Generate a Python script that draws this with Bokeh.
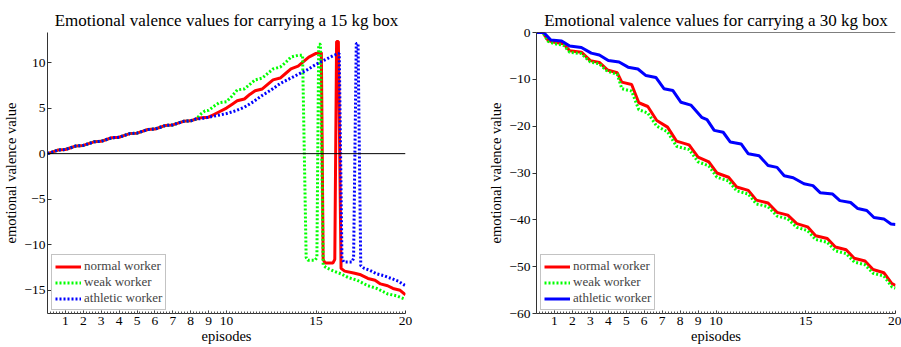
from bokeh.plotting import figure
from bokeh.layouts import row
from bokeh.models import FixedTicker, Span, Range1d
from bokeh.embed import file_html
from bokeh.resources import INLINE

# ---------------- data ----------------
episode_ticks = [1, 2, 3, 4, 5, 6, 7, 8, 9, 10, 15, 20]
series_names = ["normal worker", "weak worker", "athletic worker"]
titles = ["Emotional valence values for carrying a 15 kg box",
          "Emotional valence values for carrying a 30 kg box"]

# 15 kg box: shared rising part (all three workers overlap)
x15_common = [0, 0.3, 0.6, 1.0, 1.3, 1.6, 2.0, 2.3, 2.6, 3.0, 3.3, 3.6, 4.0, 4.3, 4.6, 5.0,
              5.3, 5.6, 6.0, 6.3, 6.6, 7.0, 7.3, 7.6, 8.0, 8.3]
y15_common = [0, 0.2, 0.4, 0.45, 0.65, 0.85, 0.9, 1.1, 1.3, 1.35, 1.55, 1.75, 1.8, 2.0, 2.2, 2.25,
              2.45, 2.65, 2.7, 2.9, 3.1, 3.15, 3.35, 3.55, 3.6, 3.8]

x15_normal = [8.6, 9.0, 9.3, 9.6, 10.0, 10.3, 10.6, 11.0, 11.3, 11.6, 12.0, 12.3, 12.6, 13.0, 13.3,
              13.6, 14.0, 14.3, 14.6, 15.0, 15.3, 15.4, 15.5, 15.95, 16.05, 16.15, 16.25, 16.4,
              16.6, 17.1, 17.5, 17.9, 18.3, 18.6, 19.0, 19.3, 19.7, 20.0]
y15_normal = [3.95, 4.0, 4.3, 4.6, 5.0, 5.4, 5.8, 6.0, 6.5, 6.9, 7.1, 7.6, 8.1, 8.3, 8.8,
              9.3, 9.6, 10.1, 10.6, 11.0, 11.1, -11.6, -12.0, -12.0, -11.6, 12.3, 12.3, -12.6,
              -12.9, -13.1, -13.3, -13.7, -13.9, -14.3, -14.5, -14.8, -15.0, -15.5]

x15_weak = [8.6, 8.8, 9.0, 9.3, 9.6, 10.0, 10.3, 10.6, 11.0, 11.3, 11.6, 12.0, 12.3, 12.6, 13.0,
            13.3, 13.6, 14.0, 14.25, 14.45, 14.55, 14.95, 15.05, 15.15, 15.25, 15.4, 15.55,
            16.0, 16.4, 16.8, 17.3, 17.9, 18.4, 19.0, 19.5, 20.0]
y15_weak = [4.4, 4.7, 4.75, 5.2, 5.6, 5.7, 6.3, 7.0, 7.1, 7.6, 8.1, 8.3, 8.8, 9.3, 9.5,
            10.0, 10.6, 10.8, 10.8, -11.4, -11.7, -11.7, -11.4, 12.0, 12.0, -12.2, -12.5,
            -12.9, -13.2, -13.6, -13.9, -14.5, -14.8, -15.4, -15.6, -16.0]

x15_athletic = [8.6, 9.0, 9.5, 10.0, 10.5, 11.0, 11.5, 12.0, 12.5, 13.0, 13.5, 14.0, 14.5, 15.0,
                15.5, 16.0, 16.3, 16.45, 16.55, 17.0, 17.1, 17.25, 17.35, 17.5, 17.7, 18.0,
                18.4, 18.8, 19.2, 19.6, 20.0]
y15_athletic = [3.85, 4.0, 4.2, 4.4, 4.7, 5.1, 5.7, 6.4, 7.0, 7.7, 8.2, 8.7, 9.2, 9.8,
                10.3, 10.8, 11.0, -11.5, -11.9, -11.9, -11.5, 12.1, 12.1, -12.3, -12.6, -12.8,
                -13.2, -13.4, -13.7, -14.0, -14.5]

# 30 kg box
x30_normal = [0, 0.35, 0.65, 1.0, 1.5, 1.85, 2.5, 3.0, 3.5, 3.95, 4.5, 4.75, 5.3, 5.7, 6.2, 6.7,
              7.3, 7.8, 8.5, 9.0, 9.6, 10.05, 10.7, 11.15, 11.8, 12.25, 12.9, 13.4, 14.0, 14.5,
              15.1, 15.55, 16.2, 16.65, 17.25, 17.7, 18.3, 18.75, 19.35, 19.8, 20.0]
y30_normal = [0, 0, -1.7, -2.1, -2.4, -3.9, -4.2, -6.0, -6.4, -8.0, -8.6, -10.6, -11.1, -15.0,
              -15.8, -18.8, -20.2, -23.2, -24.0, -26.6, -27.6, -30.0, -30.9, -33.0, -33.7, -35.8,
              -36.4, -38.4, -39.0, -40.8, -41.5, -43.4, -44.0, -45.8, -46.4, -48.2, -48.8, -50.6,
              -51.3, -53.6, -54.0]

x30_weak = [0, 0.35, 0.65, 1.0, 1.5, 1.85, 2.5, 3.0, 3.5, 3.95, 4.5, 4.75, 5.3, 5.7, 6.2, 6.7,
            7.3, 7.8, 8.5, 9.0, 9.6, 10.05, 10.7, 11.15, 11.8, 12.25, 12.9, 13.4, 14.0, 14.5,
            15.1, 15.55, 16.2, 16.65, 17.25, 17.7, 18.3, 18.75, 19.35, 19.8, 20.0]
y30_weak = [0, 0, -1.9, -2.4, -2.7, -4.2, -4.5, -6.3, -6.7, -8.3, -8.9, -12.0, -12.5, -16.5,
            -17.2, -20.0, -21.2, -24.3, -25.0, -27.6, -28.5, -30.9, -31.7, -33.8, -34.5, -36.6,
            -37.2, -39.2, -39.8, -41.6, -42.3, -44.2, -44.8, -46.6, -47.2, -49.0, -49.6, -51.4,
            -52.0, -54.3, -54.6]

x30_athletic = [0, 0.4, 0.8, 1.4, 1.85, 2.5, 3.05, 3.5, 4.0, 4.6, 5.1, 5.65, 6.1, 6.65, 7.1,
                7.6, 8.05, 8.6, 9.2, 9.5, 9.9, 10.4, 10.8, 11.4, 11.8, 12.4, 12.9, 13.4, 13.8,
                14.3, 14.9, 15.4, 15.8, 16.5, 16.9, 17.5, 17.9, 18.4, 18.8, 19.35, 19.75, 20.0]
y30_athletic = [0, 0, -1.6, -1.8, -2.9, -3.2, -4.4, -4.8, -6.0, -6.3, -7.4, -7.8, -9.2, -9.6,
                -12.0, -12.4, -14.9, -15.5, -18.1, -18.6, -20.9, -21.3, -23.4, -23.8, -25.9,
                -26.3, -28.4, -28.8, -30.6, -31.0, -32.3, -32.7, -34.2, -34.5, -35.9, -36.3,
                -37.6, -38.0, -39.5, -39.8, -40.9, -41.0]

colors = ["#ff0000", "#00ff00", "#0000ff"]

SERIF = "serif"


def style(p, yticks, y_tick_in, y_tick_out):
    p.toolbar_location = None
    p.outline_line_color = None
    p.xgrid.visible = False
    p.ygrid.visible = False
    p.background_fill_color = "white"
    p.border_fill_color = "white"
    p.title.text_font = SERIF
    p.title.text_font_size = "17px"
    p.title.text_font_style = "normal"
    p.title.text_color = "black"
    p.title.align = "center"
    p.title.vertical_align = "middle"
    p.title.standoff = 4
    p.title.offset = 0
    minor = [i / 6 for i in range(1, 120)]
    p.xaxis.ticker = FixedTicker(ticks=episode_ticks, minor_ticks=minor)
    p.yaxis.ticker = FixedTicker(ticks=yticks, minor_ticks=[])
    for ax in (p.xaxis[0], p.yaxis[0]):
        ax.axis_line_color = "#333333"
        ax.axis_line_width = 1
        ax.major_tick_line_color = "#333333"
        ax.minor_tick_line_color = "#555555"
        ax.major_label_text_font = SERIF
        ax.major_label_text_font_size = "13.5px"
        ax.major_label_text_color = "black"
        ax.axis_label_text_font = SERIF
        ax.axis_label_text_font_size = "14.5px"
        ax.axis_label_text_font_style = "normal"
        ax.axis_label_text_color = "black"
    p.xaxis.major_tick_in = 3
    p.xaxis.major_tick_out = 0
    p.xaxis.minor_tick_in = 2
    p.xaxis.minor_tick_out = 0
    p.xaxis.major_label_standoff = 3
    p.xaxis.axis_label_standoff = 0
    p.yaxis.major_tick_in = y_tick_in
    p.yaxis.major_tick_out = y_tick_out
    p.yaxis.minor_tick_in = 0
    p.yaxis.minor_tick_out = 0
    p.yaxis.major_label_standoff = 2
    p.yaxis.axis_label_standoff = 2
    p.xaxis.axis_label = "episodes"
    p.yaxis.axis_label = "emotional valence value"


def legend_style(p):
    lg = p.legend[0]
    lg.location = (4, 3)
    lg.label_text_font = SERIF
    lg.label_text_font_size = "13px"
    lg.label_height = 15
    lg.glyph_height = 15
    lg.glyph_width = 26
    lg.label_standoff = 3
    lg.spacing = 0
    lg.padding = 3
    lg.margin = 0
    lg.border_line_color = "#888888"
    lg.border_line_width = 1
    lg.background_fill_alpha = 1.0


# ---------------- left figure ----------------
p1 = figure(width=450, height=347, output_backend="svg", toolbar_location=None,
            x_range=Range1d(0, 20), y_range=Range1d(-17.55, 13.3), title=titles[0],
            min_border_left=45, min_border_right=45, min_border_top=32, min_border_bottom=34)
style(p1, [-15, -10, -5, 0, 5, 10], 4, 0)
p1.add_layout(Span(location=0, dimension="width", line_color="black", line_width=1))
p1.line(x15_common + x15_normal, y15_common + y15_normal, line_color=colors[0], line_width=3,
        legend_label=series_names[0])
p1.line(x15_common + x15_weak, y15_common + y15_weak, line_color=colors[1], line_width=3,
        line_dash="2 2", legend_label=series_names[1])
p1.line(x15_common + x15_athletic, y15_common + y15_athletic, line_color=colors[2], line_width=3,
        line_dash="2 2", legend_label=series_names[2])
legend_style(p1)

# ---------------- right figure ----------------
p2 = figure(width=451, height=347, output_backend="svg", toolbar_location=None,
            x_range=Range1d(0, 20), y_range=Range1d(-60, 0), title=titles[1],
            min_border_left=86, min_border_right=6, min_border_top=32, min_border_bottom=34)
style(p2, [-60, -50, -40, -30, -20, -10, 0], 0, 4)
p2.add_layout(Span(location=0, dimension="width", line_color="black", line_width=1))
p2.line(x30_normal, y30_normal, line_color=colors[0], line_width=3, legend_label=series_names[0])
p2.line(x30_weak, y30_weak, line_color=colors[1], line_width=3, line_dash="2 2",
        legend_label=series_names[1])
p2.line(x30_athletic, y30_athletic, line_color=colors[2], line_width=3,
        legend_label=series_names[2])
legend_style(p2)

layout = row(p1, p2)
open("out.html", "w").write(file_html(layout, INLINE))
